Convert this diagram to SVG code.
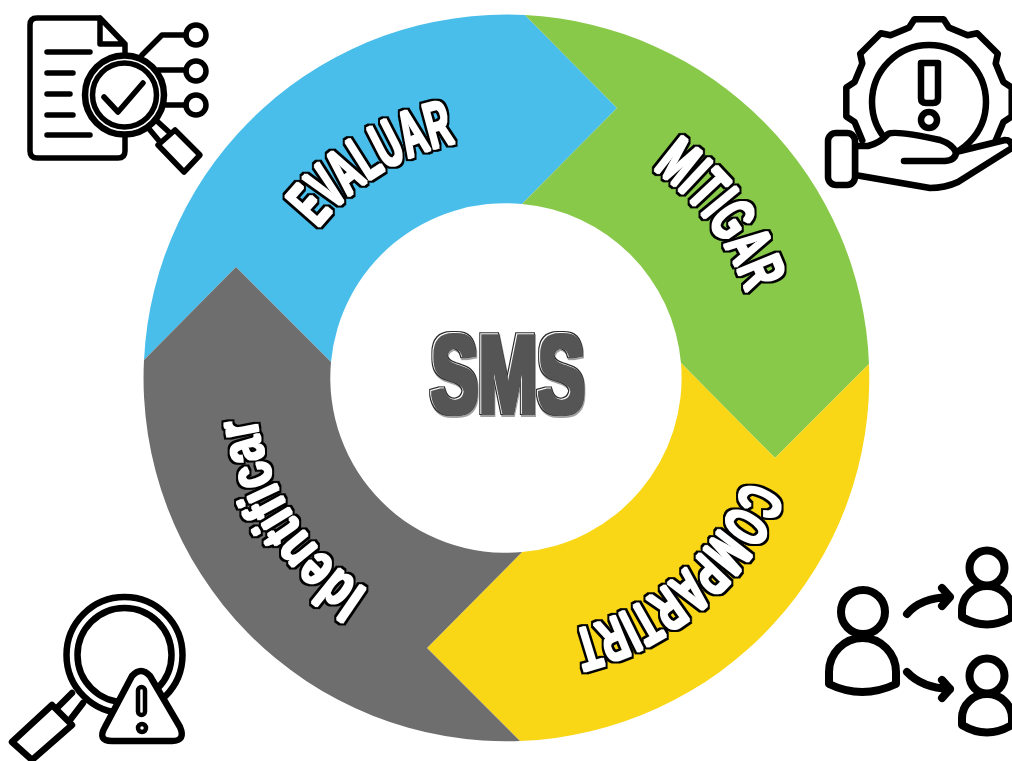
<svg xmlns="http://www.w3.org/2000/svg" width="1012" height="761" viewBox="0 0 1012 761">
<style>
.ln{fill:none;stroke:#000;stroke-width:5.500;stroke-linecap:round;stroke-linejoin:round}
.wh{fill:#fff;stroke:#000;stroke-width:6.500;stroke-linecap:round;stroke-linejoin:round}
.pp{fill:#fff;stroke:#000;stroke-width:8;stroke-linecap:round;stroke-linejoin:round}
.lab{font-family:"Liberation Sans",Arial,sans-serif;font-weight:700;fill:#fff}
.sms{font-family:"Liberation Sans",Arial,sans-serif;font-weight:700;font-size:112px}
</style>
<defs>
<path id="pEval" d="M320.5,230.5 A237,237 0 0 1 473,143.3"/>
<path id="pMit" d="M650.5,171.6 A252,252 0 0 1 748.2,308.5"/>
<path id="pComp" d="M743.5,478.8 A258,258 0 0 1 550.8,632.1"/>
<path id="pIden" d="M369.8,587.7 A250,250 0 0 1 257.4,404.1"/>
<filter id="heavy" filterUnits="userSpaceOnUse" x="0" y="0" width="1012" height="761" color-interpolation-filters="sRGB">
<feMorphology in="SourceAlpha" operator="dilate" radius="2.700" result="o"/>
<feFlood flood-color="#000"/><feComposite in2="o" operator="in" result="blk"/>
<feMorphology in="SourceAlpha" operator="dilate" radius="1.300" result="i"/>
<feFlood flood-color="#fff"/><feComposite in2="i" operator="in" result="wht"/>
<feMerge><feMergeNode in="blk"/><feMergeNode in="wht"/></feMerge>
</filter>
<filter id="smsFx" x="-10%" y="-10%" width="120%" height="120%" color-interpolation-filters="sRGB">
<feMorphology in="SourceAlpha" operator="dilate" radius="5 3" result="o"/>
<feOffset in="o" dx="2" dy="1.500" result="so"/>
<feFlood flood-color="#a0a0a0"/><feComposite in2="so" operator="in" result="sh"/>
<feFlood flood-color="#2a2a2a"/><feComposite in2="o" operator="in" result="dk"/>
<feMorphology in="SourceAlpha" operator="dilate" radius="3 1.500" result="m"/>
<feFlood flood-color="#fff"/><feComposite in2="m" operator="in" result="wh"/>
<feOffset in="m" dx="1.500" dy="1" result="of"/>
<feFlood flood-color="#555"/><feComposite in2="of" operator="in" result="body0"/>
<feComposite in="body0" in2="o" operator="in" result="body"/>
<feMerge><feMergeNode in="sh"/><feMergeNode in="dk"/><feMergeNode in="wh"/><feMergeNode in="body"/></feMerge>
</filter>
</defs>
<rect width="1012" height="761" fill="#fff"/>
<g id="ring">
<path id="seg-evaluar" fill="#4ABEEB" d="M144,360 A363,363 0 0 1 525,15 L617,108 L522,204 A175,175 0 0 0 331,362 L236,267 Z"/>
<path id="seg-mitigar" fill="#88C94A" d="M525,15 A363,363 0 0 1 869,364 L775,458 L681,363 A175,175 0 0 0 522,204 L617,108 Z"/>
<path id="seg-compartir" fill="#F9D616" d="M869,364 A363,363 0 0 1 520,741 L427,648 L522,552 A175,175 0 0 0 681,363 L775,458 Z"/>
<path id="seg-identificar" fill="#6E6E6E" d="M520,741 A363,363 0 0 1 144,360 L236,267 L331,362 A175,175 0 0 0 522,552 L427,648 Z"/>
</g>
<g id="label-evaluar"><text class="lab" font-size="66" dy="-3" filter="url(#heavy)"><textPath href="#pEval" textLength="163" lengthAdjust="spacingAndGlyphs">EVALUAR</textPath></text></g>
<g id="label-mitigar"><text class="lab" font-size="64" dy="-3" filter="url(#heavy)"><textPath href="#pMit" textLength="156" lengthAdjust="spacingAndGlyphs">MITIGAR</textPath></text></g>
<g id="label-compartir"><text class="lab" font-size="62" dy="-3" filter="url(#heavy)"><textPath href="#pComp" textLength="236" lengthAdjust="spacingAndGlyphs">COMPARTIRT</textPath></text></g>
<g id="label-identificar"><text class="lab" font-size="60" dy="-3" filter="url(#heavy)"><textPath href="#pIden" textLength="210" lengthAdjust="spacingAndGlyphs">Identificar</textPath></text></g>
<g id="label-sms"><text class="sms" transform="translate(430,412) scale(.635,1)" filter="url(#smsFx)">SMS</text></g>
<g id="icon-evaluar">
<path class="ln" d="M100,18 H37 Q30,18 30,25 V151 Q30,158 37,158 H118 Q125,158 125,151 V137 M100,18 L125,44 V52 M100,18 V44 H125"/>
<path class="ln" d="M47,52 H90 M47,73 H73 M47,94 H70 M47,115 H73 M47,135 H90"/>
<circle class="ln" cx="124.500" cy="95" r="39.500" style="stroke-width:6.500"/>
<circle class="ln" cx="124.500" cy="95" r="32"/>
<path class="ln" d="M104,97 L118,112 L143,83"/>
<path class="ln" d="M150,130 L160,142 M158,122 L170,133 M142,55 L162,35 H186 M158,70 H186 M166,105 H186"/>
<path class="ln" d="M158,145 L175,130 L200,155 L184,172 Z"/>
<circle class="ln" cx="196" cy="35" r="10"/><circle class="ln" cx="196" cy="71" r="10"/><circle class="ln" cx="196" cy="105" r="10"/>
</g>
<g id="icon-mitigar">
<path class="wh" style="fill:none" d="M862.3,140.5 L854.6,121.9 846.3,116.6 846.3,87.4 854.6,82.1 862.3,63.5 860.2,53.8 880.8,33.2 890.5,35.3 909.1,27.6 914.4,19.3 943.6,19.3 948.9,27.6 967.5,35.3 977.2,33.2 997.8,53.8 995.7,63.5 1003.4,82.1 1011.7,87.4 1011.7,116.6 1003.4,121.9 995.7,140.5"/>
<circle class="wh" cx="929" cy="102" r="57"/>
<path class="wh" d="M921,63 H938 V98 Q938,103 933,103 H926 Q921,103 921,98 Z"/>
<circle class="wh" cx="929" cy="120" r="8"/>
<path class="wh" d="M855,146 H868 Q880,143 888,134 Q895,130 940,140 Q952,144 956,152 L1005,140 Q1012,140 1012,148 L958,182 Q945,188 930,188 L855,175 Z"/>
<path class="wh" style="fill:none" d="M904,161 H945 Q956,160 956,152"/>
<rect class="wh" x="828" y="133" width="27" height="52" rx="8"/>
</g>
<g id="icon-compartir">
<circle class="pp" cx="863" cy="612" r="22"/>
<path class="pp" d="M829,684 V672 A33.500,34 0 0 1 896,672 V684 Q862,700 829,684 Z"/>
<circle class="pp" cx="987" cy="568" r="17.500"/>
<path class="pp" d="M962,617 V610 A25,24 0 0 1 1012,610 V617 Q987,632 962,617 Z"/>
<circle class="pp" cx="987" cy="676" r="17.500"/>
<path class="pp" d="M962,725 V718 A25,24 0 0 1 1012,718 V725 Q987,740 962,725 Z"/>
<path class="pp" style="fill:none" d="M907,614 Q920,598 950,597 M942,588 L950,597 L942,606 M907,672 Q922,688 950,689 M942,680 L950,689 L942,698"/>
</g>
<g id="icon-identificar">
<circle class="wh" style="fill:none" cx="124.500" cy="655" r="58"/>
<circle class="wh" style="fill:none" cx="124.500" cy="655" r="47"/>
<path class="wh" style="fill:none" d="M72,693 L58,707 M83,703 L70,720"/>
<path class="wh" d="M52,705 L72,725 L32,760 L12,742 Z"/>
<path class="wh" d="M132,676 Q141,666 150,676 L180,727 Q186,741 172,741 H112 Q97,741 105,727 Z"/>
<rect x="138" y="687" width="7" height="28" rx="3.500" fill="#fff" stroke="#000" stroke-width="4.500"/>
<circle cx="142" cy="728" r="4" fill="#fff" stroke="#000" stroke-width="4.500"/>
</g>
</svg>
